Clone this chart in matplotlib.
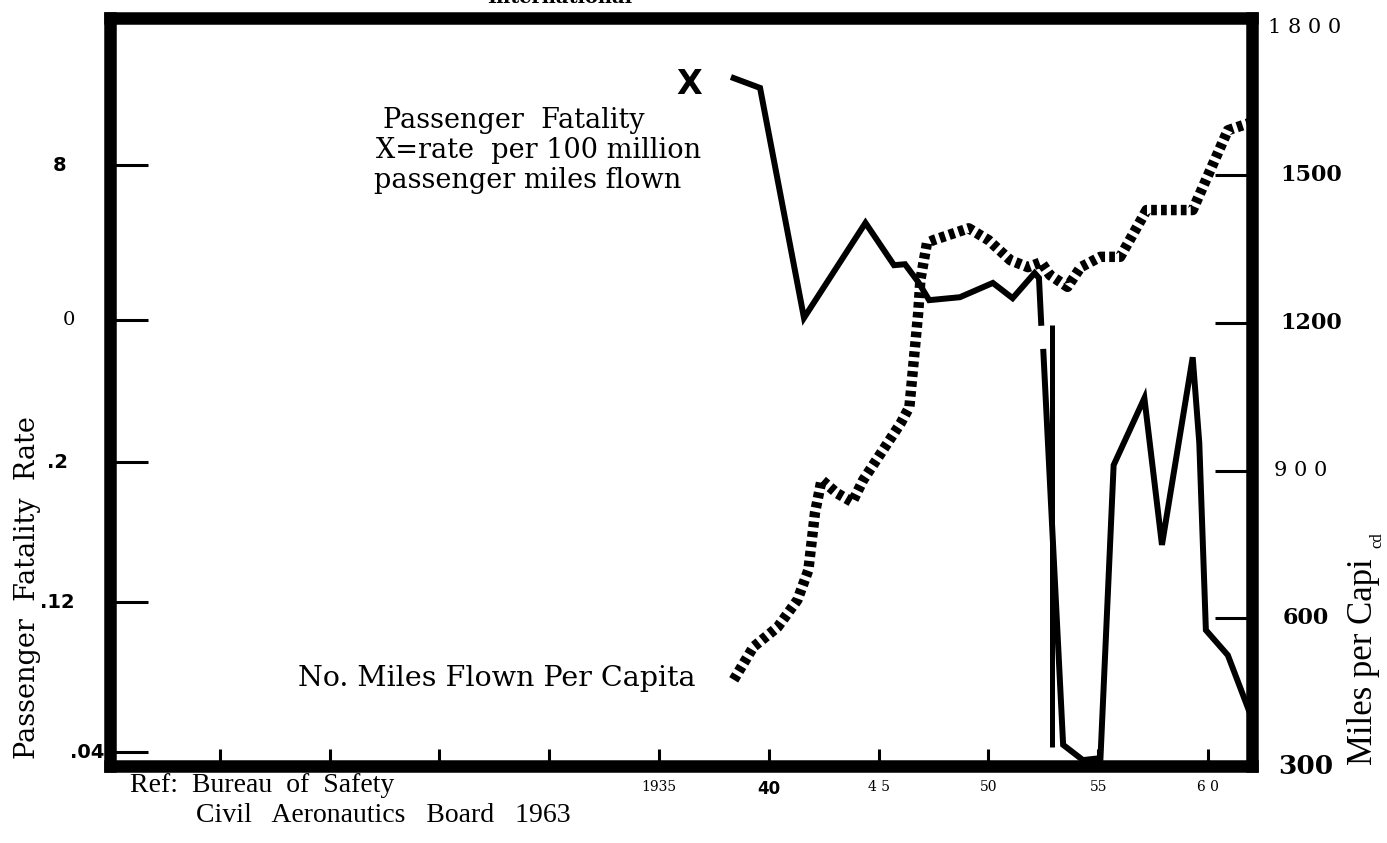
import matplotlib.pyplot as plt

# values: years on x, miles-per-capita scale (right axis) on y
fatal_years = [1938.4, 1939.6, 1941.6, 1944.4, 1945.7, 1946.2, 1946.8, 1947.3,
               1948.7, 1950.2, 1951.1, 1952.1, 1952.3, 1952.4]
fatal_vals = [1697, 1677, 1210, 1403, 1317, 1319, 1283, 1246,
              1252, 1281, 1250, 1301, 1291, 1200]
fatal_years2 = [1952.5, 1953.4, 1954.3, 1955.1, 1955.7, 1957.1, 1957.9,
                1959.3, 1959.6, 1959.9, 1960.9, 1961.9]
fatal_vals2 = [1141, 343, 312, 316, 911, 1047, 749, 1130, 956, 576, 525, 408]
bar_years = [1952.9, 1952.9]
bar_vals = [1195, 339]

miles_years = [1938.4, 1939.3, 1940.4, 1941.3, 1941.8, 1942.1, 1942.4, 1943.1,
               1943.8, 1944.3, 1946.0, 1946.4, 1946.8, 1946.9, 1947.2, 1947.5,
               1949.1, 1950.0, 1951.0, 1951.8, 1952.4, 1952.8, 1953.6, 1954.2,
               1955.1, 1956.0, 1957.2, 1959.3, 1960.9, 1961.9]
miles_vals = [475, 542, 582, 637, 698, 814, 881, 854,
              836, 881, 996, 1029, 1220, 1287, 1362, 1368,
              1392, 1368, 1327, 1313, 1323, 1297, 1273, 1313,
              1334, 1334, 1429, 1429, 1591, 1606]

x_ticks = [1915, 1920, 1925, 1930, 1935, 1940, 1945, 1950, 1955, 1960]
x_labels = ['', '', '', '', '1935', '40', '4 5', '50', '55', '6 0']
left_ticks = [1520, 1206, 917, 633, 328]
left_labels = ['8', '0', '.2', '.12', '.04']
right_ticks = [1500, 1200, 900, 600]
right_vals = [1800, 1500, 1200, 900, 600, 300]
right_labels = ['1 8 0 0', '1500', '1200', '9 0 0', '600', '300']

W, H = 1387, 843
fig = plt.figure(figsize=(W / 100, H / 100), dpi=100)
ax = fig.add_axes([110 / W, 1 - 766 / H, 1142 / W, 748 / H])


def fx(px):
    # pixel column -> axes fraction
    return (px - 110) / 1142


def fig_xy(px, py):
    return px / W, 1 - py / H


#%% lines
ax.plot(fatal_years, fatal_vals, color='black', lw=4.3, solid_joinstyle='miter')
ax.plot(fatal_years2, fatal_vals2, color='black', lw=4.3, solid_joinstyle='miter')
ax.plot(bar_years, bar_vals, color='black', lw=3.6, solid_capstyle='butt')
ax.plot(miles_years, miles_vals, color='black', lw=7.5, dashes=(0.55, 0.4),
        dash_capstyle='butt')

ax.set_xlim(1910, 1962)
ax.set_ylim(300, 1819)

for s in ax.spines.values():
    s.set_linewidth(9)

ax.set_xticks(x_ticks, x_labels, fontfamily='DejaVu Serif', fontsize=10)
ax.get_xticklabels()[5].set_fontweight('bold')
ax.get_xticklabels()[5].set_fontfamily('DejaVu Sans')
ax.get_xticklabels()[5].set_fontsize(12)
ax.tick_params(axis='x', direction='in', length=12, width=2.2, pad=10)

ax.set_yticks(left_ticks, [''] * len(left_ticks))
ax.tick_params(axis='y', direction='in', length=27, width=2.2, right=False)
# right ticks share the y-scale with the right labels
ax2 = ax.twinx()
ax2.set_ylim(ax.get_ylim())
ax2.set_yticks(right_ticks, [''] * len(right_ticks))
ax2.tick_params(axis='y', direction='in', length=27, width=2.2)
for s in ax2.spines.values():
    s.set_visible(False)

ytr = ax.get_yaxis_transform()
left_x = [66, 75, 68, 75, 104]
left_w = ['bold', 'normal', 'bold', 'bold', 'bold']
left_f = ['DejaVu Sans', 'DejaVu Serif', 'DejaVu Sans', 'DejaVu Sans', 'DejaVu Sans']
for v, lab, px, w, f in zip(left_ticks, left_labels, left_x, left_w, left_f):
    ax.text(fx(px), v, lab, transform=ytr, ha='right', va='center',
            fontsize=14, fontweight=w, fontfamily=f)

right_x = [1268, 1280, 1280, 1274, 1283, 1278]
right_w = ['normal', 'bold', 'bold', 'normal', 'bold', 'bold']
right_s = [15, 16, 16, 15, 16, 19]
for v, lab, px, w, s in zip(right_vals, right_labels, right_x, right_w, right_s):
    ax.text(fx(px), v, lab, transform=ytr, ha='left', va='center',
            fontsize=s, fontweight=w, fontfamily='DejaVu Serif')

#%% annotations
ax.text(*fig_xy(689, 85), 'X', transform=fig.transFigure, ha='center', va='center',
        fontsize=24, fontweight='bold', fontfamily='DejaVu Sans')
serif = dict(fontfamily='DejaVu Serif', fontsize=19.5, transform=fig.transFigure,
             va='center', ha='left')
ax.text(*fig_xy(383, 121), 'Passenger  Fatality', **serif)
ax.text(*fig_xy(376, 151), 'X=rate  per 100 million', **serif)
ax.text(*fig_xy(374, 181), 'passenger miles flown', **serif)
ax.text(*fig_xy(298, 678), 'No. Miles Flown Per Capita', **dict(serif, fontsize=20.5))

fig.text(*fig_xy(28, 588), 'Passenger  Fatality  Rate', rotation=90,
         ha='center', va='center', fontfamily='DejaVu Serif', fontsize=19.5)
fig.text(*fig_xy(1364, 662), 'Miles per Capi', rotation=90,
         ha='center', va='center', fontfamily='Liberation Serif', fontsize=25)
fig.text(*fig_xy(1377, 540), 'cd', rotation=90,
         ha='center', va='center', fontfamily='Liberation Serif', fontsize=12)

fig.text(*fig_xy(130, 785), 'Ref:  Bureau  of  Safety', ha='left', va='center',
         fontfamily='Liberation Serif', fontsize=20)
fig.text(*fig_xy(196, 815), 'Civil   Aeronautics   Board   1963', ha='left',
         va='center', fontfamily='Liberation Serif', fontsize=20)

fig.text(*fig_xy(560, -2), 'International', ha='center', va='center',
         fontfamily='DejaVu Serif', fontweight='bold', fontsize=14)

fig.savefig('out.png', dpi=100)
